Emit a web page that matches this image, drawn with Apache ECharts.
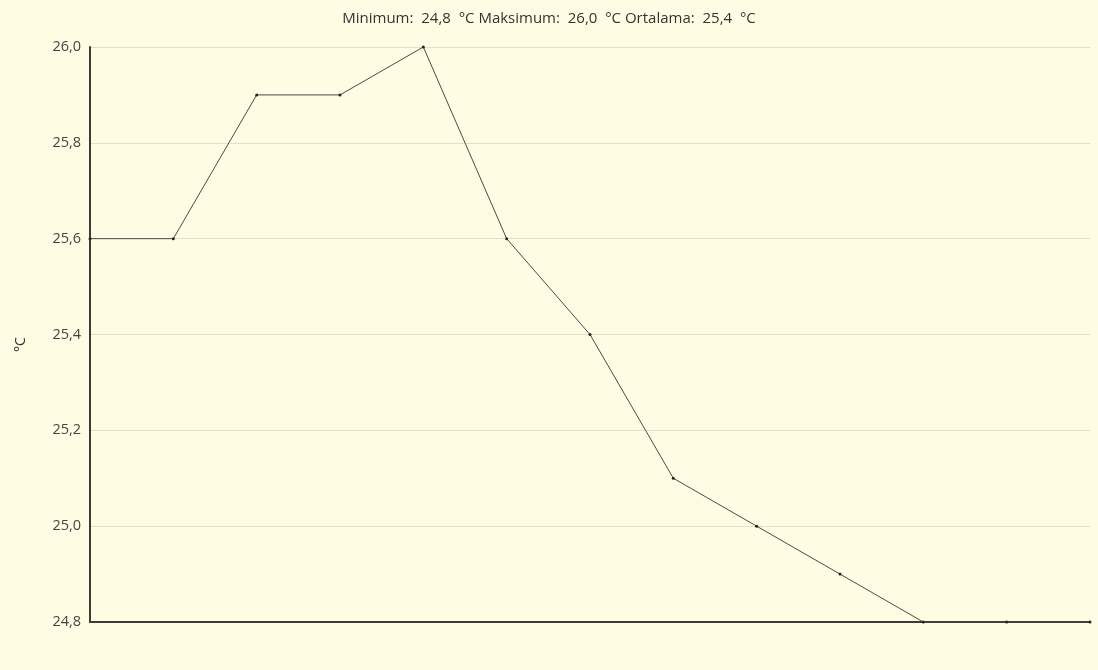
<!DOCTYPE html>
<html>
<head>
<meta charset="utf-8">
<script src="https://cdn.jsdelivr.net/npm/echarts@6/dist/echarts.min.js"></script>
<style>
  html, body { margin: 0; padding: 0; background: #FEFDE3; }
  #chart { width: 1098px; height: 670px; }
</style>
</head>
<body>
<div id="chart"></div>
<script>
// Temperature readings (°C) at evenly spaced sample points
const samples = ['1', '2', '3', '4', '5', '6', '7', '8', '9', '10', '11', '12', '13'];
const temperatures = [25.6, 25.6, 25.9, 25.9, 26.0, 25.6, 25.4, 25.1, 25.0, 24.9, 24.8, 24.8, 24.8];
const yTicks = [24.8, 25.0, 25.2, 25.4, 25.6, 25.8, 26.0];

const fmt = v => v.toFixed(1).replace('.', ',');
const minT = Math.min(...temperatures);
const maxT = Math.max(...temperatures);
const avgT = 25.4;
const titleText = 'Minimum:  ' + fmt(minT) + '  °C Maksimum:  ' + fmt(maxT) + '  °C Ortalama:  ' + fmt(avgT) + '  °C';

const chart = echarts.init(document.getElementById('chart'));
chart.setOption({
  backgroundColor: '#FEFDE3',
  animation: false,
  title: {
    text: titleText,
    left: 'center',
    top: 6,
    textStyle: { fontFamily: 'Open Sans', fontSize: 15, fontWeight: 'normal', color: '#333' }
  },
  grid: { left: 90, right: 8, top: 47, bottom: 48 },
  xAxis: {
    type: 'category',
    data: samples,
    boundaryGap: false,
    axisLine: { show: true, lineStyle: { color: '#3d3d38', width: 2 } },
    axisTick: { show: false },
    axisLabel: { show: false },
    splitLine: { show: false }
  },
  yAxis: {
    type: 'value',
    min: yTicks[0],
    max: yTicks[yTicks.length - 1],
    interval: 0.2,
    name: '°C',
    nameLocation: 'middle',
    nameGap: 62,
    nameRotate: 90,
    nameTextStyle: { fontFamily: 'Open Sans', fontSize: 14, color: '#333', padding: [0, 0, 0, -20] },
    axisLine: { show: true, lineStyle: { color: '#3d3d38', width: 2 } },
    axisTick: { show: false },
    axisLabel: {
      fontFamily: 'Open Sans', fontSize: 14.5, color: '#444', margin: 9,
      formatter: v => fmt(v)
    },
    splitLine: { show: true, lineStyle: { color: '#e2dfc6', width: 1 } }
  },
  series: [{
    type: 'line',
    data: temperatures,
    symbol: 'circle',
    symbolSize: 3,
    lineStyle: { color: '#4a4a44', width: 1 },
    itemStyle: { color: '#222' },
    z: 1
  }]
});
</script>
</body>
</html>
